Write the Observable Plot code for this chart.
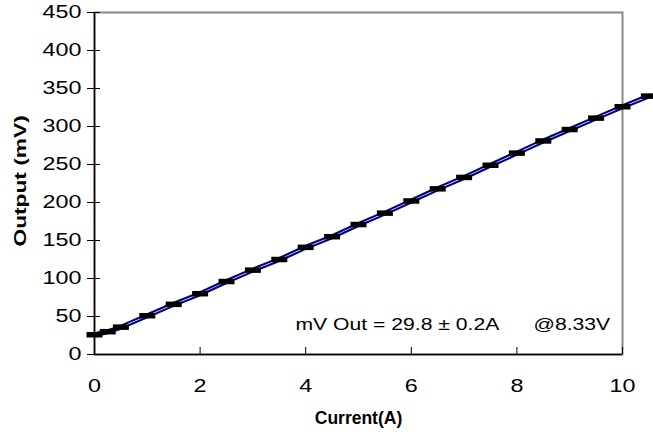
<!DOCTYPE html>
<html><head><meta charset="utf-8">
<script src="https://cdn.jsdelivr.net/npm/d3@7"></script>
<script src="https://cdn.jsdelivr.net/npm/@observablehq/plot@0.6"></script>
<style>body{margin:0;background:#fff}</style>
</head><body><div id="chart"></div>
<script>
const current    = [0, 0.25, 0.5, 1, 1.5, 2, 2.5, 3, 3.5, 4, 4.5, 5, 5.5, 6, 6.5, 7, 7.5, 8, 8.5, 9, 9.5, 10, 10.5];
const outputMid  = [26, 30, 36, 51, 66, 80, 96, 111, 125, 141, 155, 171, 186, 202, 218, 233, 249, 265, 281, 296, 311, 326, 340];
const outputHigh = [28, 32, 38, 53, 68, 82, 98, 113, 127, 143, 157, 173, 188, 204, 220, 235, 251, 267, 283, 298, 313, 328, 342];
const outputLow  = [24, 28, 34, 49, 64, 78, 94, 109, 123, 139, 153, 169, 184, 200, 216, 231, 247, 263, 279, 294, 309, 324, 338];
const xTicks = [0, 2, 4, 6, 8, 10];
const yTicks = [0, 50, 100, 150, 200, 250, 300, 350, 400, 450];
const xTitle = "Current(A)";
const yTitle = "Output (mV)";
const noteLeft = "mV Out = 29.8 ± 0.2A";
const noteRight = "@8.33V";

const rows = current.map((c, i) => ({current: c, mid: outputMid[i], high: outputHigh[i], low: outputLow[i]}));
const dash = {draw(ctx) { ctx.rect(-8, -2.75, 16, 5.5); }};
const font = "Arial, 'Liberation Sans', sans-serif";

const plot = Plot.plot({
  width: 653, height: 440,
  marginLeft: 94, marginRight: 31, marginTop: 12, marginBottom: 86,
  style: {fontFamily: font, fontSize: "18.5px", color: "#000", background: "#fff", overflow: "visible"},
  x: {domain: [0, 10], label: null},
  y: {domain: [0, 450], label: null},
  marks: [
    Plot.frame({stroke: "#888", strokeWidth: 2}),
    Plot.axisY(yTicks, {tickSize: 13, dx: 6, tickFormat: () => "", stroke: "#000", label: null}),
    Plot.axisY(yTicks, {tickSize: 0, tickPadding: 13, fontSize: 18.5, label: null}),
    Plot.axisX(xTicks, {tickSize: 7, dy: -7, tickFormat: () => "", stroke: "#000", label: null}),
    Plot.axisX(xTicks, {tickSize: 0, tickPadding: 24, fontSize: 18.5, label: null}),
    Plot.ruleX([0], {stroke: "#000", strokeWidth: 1.5}),
    Plot.ruleY([0], {stroke: "#000", strokeWidth: 1.5}),
    Plot.line(rows, {x: "current", y: "high", stroke: "#000080", strokeWidth: 2.1}),
    Plot.line(rows, {x: "current", y: "low", stroke: "#000080", strokeWidth: 2.1}),
    Plot.dot(rows, {x: "current", y: "mid", symbol: dash, fill: "#000", stroke: null, r: 4}),
    Plot.text([noteLeft], {frameAnchor: "bottom-left", dx: 201, dy: -30, textAnchor: "start", lineAnchor: "middle", fontSize: 16.8}),
    Plot.text([noteRight], {frameAnchor: "bottom-left", dx: 439, dy: -30, textAnchor: "start", lineAnchor: "middle", fontSize: 16.8}),
    Plot.text([xTitle], {frameAnchor: "bottom", dy: 64, lineAnchor: "middle", fontWeight: "bold", fontSize: 17.5}),
    Plot.text([yTitle], {frameAnchor: "left", dx: -74, dy: 63, rotate: -90, textAnchor: "start", lineAnchor: "middle", fontWeight: "bold", fontSize: 16})
  ]
});
document.getElementById("chart").append(plot);
plot.querySelectorAll("text").forEach(t => {
  const s = t.textContent;
  if (!s || s === xTitle || t.querySelector("tspan")) return;
  const factor = s === yTitle ? 1.42 : 1.26;
  const b = t.getBBox();
  const len = t.getComputedTextLength();
  const newLen = len * factor;
  if (s !== yTitle) {
    const anchor = getComputedStyle(t).textAnchor;
    const start = anchor === "middle" ? b.x + b.width / 2 - newLen / 2
                : anchor === "end" ? b.x + b.width - newLen : b.x;
    t.setAttribute("x", start.toFixed(1));
    t.setAttribute("text-anchor", "start");
    t.style.textAnchor = "start";
  }
  t.setAttribute("textLength", newLen.toFixed(1));
  t.setAttribute("lengthAdjust", "spacingAndGlyphs");
});
</script>
</body></html>
